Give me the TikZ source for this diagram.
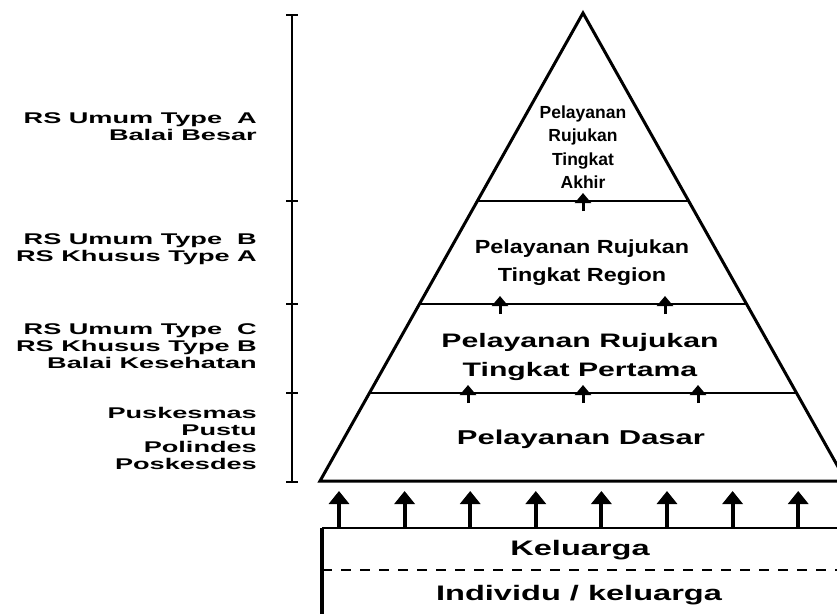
\documentclass[tikz,border=0pt]{standalone}
\usepackage{fontspec}
\setmainfont{Liberation Sans}
\newfontfamily\sidefont{Liberation Sans}[FakeStretch=1.75]
\newfontfamily\widefont{Liberation Sans}[FakeStretch=1.55]
\newfontfamily\slimfont{Liberation Sans}[FakeStretch=1.23]
\usetikzlibrary{arrows.meta}
\usetikzlibrary{calc}
\tikzset{
    sidelabel/.style={
        anchor=east,
        align=right,
        inner sep=0pt,
        font=\sidefont\bfseries\fontsize{15.5}{17}\selectfont
    },
    levellabel/.style={
        align=center,
        inner sep=0pt
    },
    levelline/.style={
        draw,
        line width=2pt
    },
    uparrow/.style={
        draw,
        line width=3pt,
        -{Triangle[width=16pt, length=10pt]}
    },
    bigarrow/.style={
        draw,
        line width=4pt,
        -{Triangle[width=20pt, length=13pt]}
    }
}

\begin{document}
\begin{tikzpicture}[x=1pt, y=-1pt]
  \useasboundingbox (0,0) rectangle (837,613);
  \clip (0,0) rectangle (837,613);

  % Pyramid outline
  \coordinate (apex) at (583,13);
  \coordinate (baseL) at (320,481);
  \coordinate (baseR) at (846,481);
  \draw[line width=3pt, line join=miter] (baseL) -- (apex) -- (baseR) -- cycle;

  % Borders between the levels
  \coordinate (l1L) at ($(apex)!0.402!(baseL)$);
  \coordinate (l1R) at ($(apex)!0.402!(baseR)$);
  \coordinate (l2L) at ($(apex)!0.622!(baseL)$);
  \coordinate (l2R) at ($(apex)!0.622!(baseR)$);
  \coordinate (l3L) at ($(apex)!0.812!(baseL)$);
  \coordinate (l3R) at ($(apex)!0.812!(baseR)$);
  \draw[levelline] (l1L) -- (l1R);
  \draw[levelline] (l2L) -- (l2R);
  \draw[levelline] (l3L) -- (l3R);

  % Referral arrows inside the pyramid
  \foreach \x/\y [count=\i] in {583/201, 500/304, 665/304, 468/393, 583/393, 698/393} {
    \coordinate (upS\i) at (\x,\y+10);
    \coordinate (upT\i) at (\x,\y-8);
    \draw[uparrow] (upS\i) -- (upT\i);
  }

  % Level texts
  \node[levellabel, font=\bfseries\fontsize{17.5}{23.5}\selectfont] (lvlTop) at (583,147)
    {Pelayanan\\Rujukan\\Tingkat\\Akhir};
  \node[levellabel, font=\slimfont\bfseries\fontsize{19}{28}\selectfont] (lvlRegion) at (582,263)
    {Pelayanan Rujukan\\Tingkat Region};
  \node[levellabel, font=\widefont\bfseries\fontsize{19.5}{28.5}\selectfont] (lvlPertama) at (580,357)
    {Pelayanan Rujukan\\Tingkat Pertama};
  \node[levellabel, font=\widefont\bfseries\fontsize{20}{24}\selectfont] (lvlDasar) at (581,439)
    {Pelayanan Dasar};

  % Scale bar with the facilities
  \coordinate (barT) at (292,15);
  \coordinate (barB) at (292,482);
  \draw[line width=2.2pt] (barT) -- (barB);
  \foreach \y in {15,201,304,393,482}
    \draw[line width=2pt] (286,\y) -- (298,\y);

  \node[sidelabel] (lblA) at (257,127) {RS Umum Type\ \ A\\Balai Besar};
  \node[sidelabel] (lblB) at (257,249) {RS Umum Type\ \ B\\RS Khusus Type A};
  \node[sidelabel] (lblC) at (257,346) {RS Umum Type\ \ C\\RS Khusus Type B\\Balai Kesehatan};
  \node[sidelabel] (lblD) at (257,438) {Puskesmas\\Pustu\\Polindes\\Poskesdes};

  % Family box at the bottom
  \coordinate (boxTL) at (322,528);
  \coordinate (boxTR) at (842,528);
  \coordinate (boxBL) at (322,618);
  \coordinate (dashL) at (322,570);
  \coordinate (dashR) at (842,570);
  \draw[line width=2.5pt] (boxTL) -- (boxTR);
  \draw[line width=4pt] (boxTL) -- (boxBL);
  \draw[line width=2.5pt, dash pattern=on 10pt off 9pt] (dashL) -- (dashR);

  \foreach \i in {0,...,7} {
    \coordinate (fS\i) at (339+65.6*\i,528);
    \coordinate (fT\i) at (339+65.6*\i,491);
    \draw[bigarrow] (fS\i) -- (fT\i);
  }

  \node[levellabel, font=\widefont\bfseries\fontsize{21}{24}\selectfont] (keluarga) at (580,550)
    {Keluarga};
  \node[levellabel, font=\widefont\bfseries\fontsize{21}{24}\selectfont] (individu) at (579,595)
    {Individu / keluarga};
\end{tikzpicture}
\end{document}
